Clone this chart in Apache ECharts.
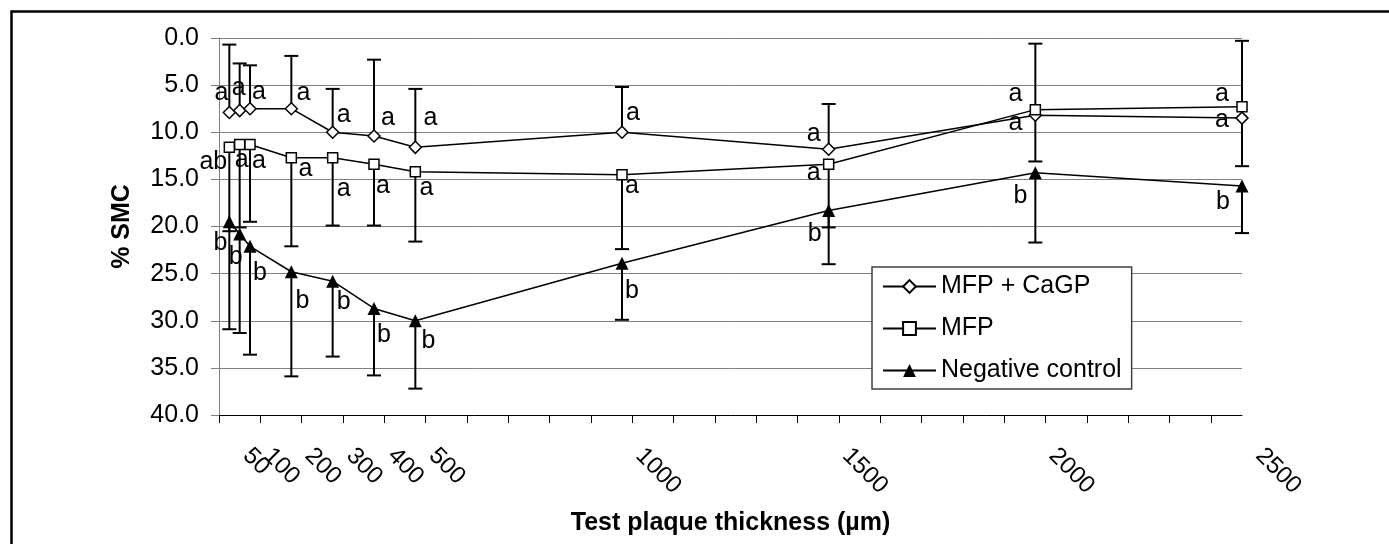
<!DOCTYPE html>
<html>
<head>
<meta charset="utf-8">
<script src="https://cdn.jsdelivr.net/npm/echarts@6/dist/echarts.min.js"></script>
<style>
  html, body { margin: 0; padding: 0; background: #fff; }
  #chart { width: 1389px; height: 544px; }
</style>
</head>
<body>
<div id="chart"></div>
<script>
// plaque thickness (µm) of each measured point
const thickness = [25, 50, 75, 175, 275, 375, 475, 975, 1475, 1975, 2475];

// % SMC per group, with the one-sided error bar (SD) shown in the figure
const smcMfpCagp = [7.9, 7.7, 7.5, 7.5, 10.0, 10.4, 11.6, 10.0, 11.8, 8.2, 8.5];
const sdMfpCagp = [7.2, 5.0, 4.6, 5.6, 4.6, 8.1, 6.2, 4.8, 4.8, 7.6, 8.2];
const smcMfp = [11.6, 11.3, 11.3, 12.7, 12.7, 13.4, 14.2, 14.5, 13.4, 7.6, 7.3];
const sdMfp = [8.9, 8.8, 8.2, 9.4, 7.2, 6.5, 7.4, 7.9, 6.7, 5.5, 6.3];
const smcNeg = [19.5, 20.8, 22.1, 24.8, 25.8, 28.7, 30.0, 23.9, 18.3, 14.3, 15.7];
const sdNeg = [11.4, 10.5, 11.5, 11.1, 8.0, 7.1, 7.2, 6.0, 5.7, 7.4, 5.0];

// significance letters
const lettersMfpCagp = ['a', 'a', 'a', 'a', 'a', 'a', 'a', 'a', 'a', 'a', 'a'];
const lettersMfp = ['ab', 'a', 'a', 'a', 'a', 'a', 'a', 'a', 'a', 'a', 'a'];
const lettersNeg = ['b', 'b', 'b', 'b', 'b', 'b', 'b', 'b', 'b', 'b', 'b'];

// axis labels
const xLabelValues = [100, 200, 300, 400, 500, 1000, 1500, 2000];
const xFirstLabel = [50];
const xLastLabel = [2500];
const seriesNames = ['MFP + CaGP', 'MFP', 'Negative control'];

// where each letter sits relative to its marker (px)
const offMfpCagp = [[-8, -19], [-1, -22], [9, -17], [12, -16], [11, -17], [14, -18], [15, -29], [11, -19], [-15, -15], [-20, 8], [-20, 2]];
const offMfp = [[-16, 15], [2, 16], [9, 17], [14, 11], [11, 31], [9, 22], [11, 16], [10, 11], [-15, 9], [-20, -16], [-20, -13]];
const offNeg = [[-9, 21], [-4, 23], [10, 27], [11, 29], [11, 21], [10, 27], [13, 20], [10, 28], [-14, 24], [-15, 23], [-19, 16]];

const FONT = "'Liberation Sans', Arial, sans-serif";
const xTicks = [];
for (let v = 0; v <= 2400; v += 100) xTicks.push(v);

const chart = echarts.init(document.getElementById('chart'));

const plotLeft = 219, plotRight = 1242, plotTop = 38, plotBottom = 415;
const pxPerUnit = (plotRight - plotLeft) / 2475;

function points(ys, letters, offsets) {
  return thickness.map((x, i) => ({
    value: [x, ys[i]],
    label: { formatter: letters[i], offset: offsets[i] }
  }));
}

function errorBars(dir) {
  return function (params, api) {
    const x = api.value(0), y = api.value(1), sd = api.value(2);
    const p0 = api.coord([x, y]);
    const p1 = api.coord([x, y + dir * sd]);
    const st = { stroke: '#000', lineWidth: 2 };
    return {
      type: 'group',
      children: [
        { type: 'line', shape: { x1: p0[0], y1: p0[1], x2: p1[0], y2: p1[1] }, style: st },
        { type: 'line', shape: { x1: p1[0] - 7, y1: p1[1], x2: p1[0] + 7, y2: p1[1] }, style: st }
      ]
    };
  };
}

const lineBase = {
  type: 'line',
  clip: false,
  lineStyle: { color: '#000', width: 1.5 },
  label: { show: true, position: 'inside', fontSize: 25, fontFamily: FONT, color: '#000' },
  emphasis: { disabled: true },
  z: 3
};

const xLabelStyle = {
  rotate: -45,
  fontSize: 24,
  fontFamily: FONT,
  color: '#000',
  margin: 30,
  padding: [0, 0, 0, 10],
  hideOverlap: false,
  formatter: v => String(v)
};

// extra label-only axes (the 50 label overlaps 100, the 2500 label sits past the axis end)
function labelOnlyAxis(gridIndex, max, values) {
  return {
    type: 'value', gridIndex: gridIndex, min: 0, max: max, position: 'bottom',
    axisLine: { show: false, onZero: false }, axisTick: { show: false }, splitLine: { show: false },
    axisLabel: Object.assign({ customValues: values }, xLabelStyle)
  };
}

const option = {
  animation: false,
  backgroundColor: '#fff',
  grid: [
    { left: plotLeft, top: plotTop, width: plotRight - plotLeft, height: plotBottom - plotTop, outerBoundsMode: 'none' },
    { left: plotLeft, top: plotTop, width: 2500 * pxPerUnit, height: plotBottom - plotTop, outerBoundsMode: 'none' }
  ],
  xAxis: [
    {
      type: 'value', gridIndex: 0, min: 0, max: 2475, interval: 100, position: 'bottom',
      name: 'Test plaque thickness (µm)', nameLocation: 'middle', nameGap: 96,
      nameTextStyle: { fontSize: 25, fontWeight: 'bold', fontFamily: FONT, color: '#000' },
      axisLine: { show: true, onZero: false, lineStyle: { color: '#000', width: 1 } },
      axisTick: { show: true, inside: false, length: 8, customValues: xTicks, lineStyle: { color: '#000' } },
      axisLabel: Object.assign({ customValues: xLabelValues }, xLabelStyle),
      splitLine: { show: false }
    },
    labelOnlyAxis(1, 2500, xLastLabel),
    labelOnlyAxis(1, 2500, xFirstLabel)
  ],
  yAxis: [
    {
      type: 'value', gridIndex: 0, inverse: true, min: 0, max: 40, interval: 5,
      name: '% SMC', nameLocation: 'middle', nameGap: 84,
      nameTextStyle: { fontSize: 25, fontWeight: 'bold', fontFamily: FONT, color: '#000' },
      axisLine: { show: true, onZero: false, lineStyle: { color: '#808080', width: 1 } },
      axisTick: { show: true, inside: false, length: 8, lineStyle: { color: '#808080' } },
      axisLabel: { fontSize: 25, fontFamily: FONT, color: '#000', margin: 20, formatter: v => v.toFixed(1) },
      splitLine: { show: true, lineStyle: { color: '#808080', width: 1 } }
    },
    { type: 'value', gridIndex: 1, inverse: true, min: 0, max: 40, show: false }
  ],
  legend: {
    orient: 'vertical',
    left: 872, top: 267,
    data: seriesNames,
    selectedMode: false,
    itemWidth: 53, itemHeight: 16, itemGap: 17,
    padding: [7, 10, 6, 10],
    backgroundColor: '#fff',
    borderColor: '#404040', borderWidth: 1.5, borderRadius: 0,
    textStyle: { fontSize: 25, fontFamily: FONT, color: '#000' }
  },
  graphic: [{
    type: 'rect', left: 9, top: 9, z: -10, silent: true,
    shape: { width: 1400, height: 600 },
    style: { fill: 'none', stroke: '#000', lineWidth: 2.5 }
  }],
  series: [
    Object.assign({}, lineBase, {
      name: seriesNames[0], symbol: 'diamond', symbolSize: 12,
      itemStyle: { color: '#fff', borderColor: '#000', borderWidth: 1.5 },
      data: points(smcMfpCagp, lettersMfpCagp, offMfpCagp)
    }),
    Object.assign({}, lineBase, {
      name: seriesNames[1], symbol: 'rect', symbolSize: 10,
      itemStyle: { color: '#fff', borderColor: '#000', borderWidth: 1.5 },
      data: points(smcMfp, lettersMfp, offMfp)
    }),
    Object.assign({}, lineBase, {
      name: seriesNames[2], symbol: 'triangle', symbolSize: 13,
      itemStyle: { color: '#000', borderColor: '#000', borderWidth: 0 },
      data: points(smcNeg, lettersNeg, offNeg)
    }),
    {
      type: 'custom', name: 'err0', renderItem: errorBars(-1), z: 2, silent: true,
      encode: { x: 0, y: 1 }, data: thickness.map((x, i) => [x, smcMfpCagp[i], sdMfpCagp[i]])
    },
    {
      type: 'custom', name: 'err1', renderItem: errorBars(1), z: 2, silent: true,
      encode: { x: 0, y: 1 }, data: thickness.map((x, i) => [x, smcMfp[i], sdMfp[i]])
    },
    {
      type: 'custom', name: 'err2', renderItem: errorBars(1), z: 2, silent: true,
      encode: { x: 0, y: 1 }, data: thickness.map((x, i) => [x, smcNeg[i], sdNeg[i]])
    }
  ]
};

chart.setOption(option);
</script>
</body>
</html>
